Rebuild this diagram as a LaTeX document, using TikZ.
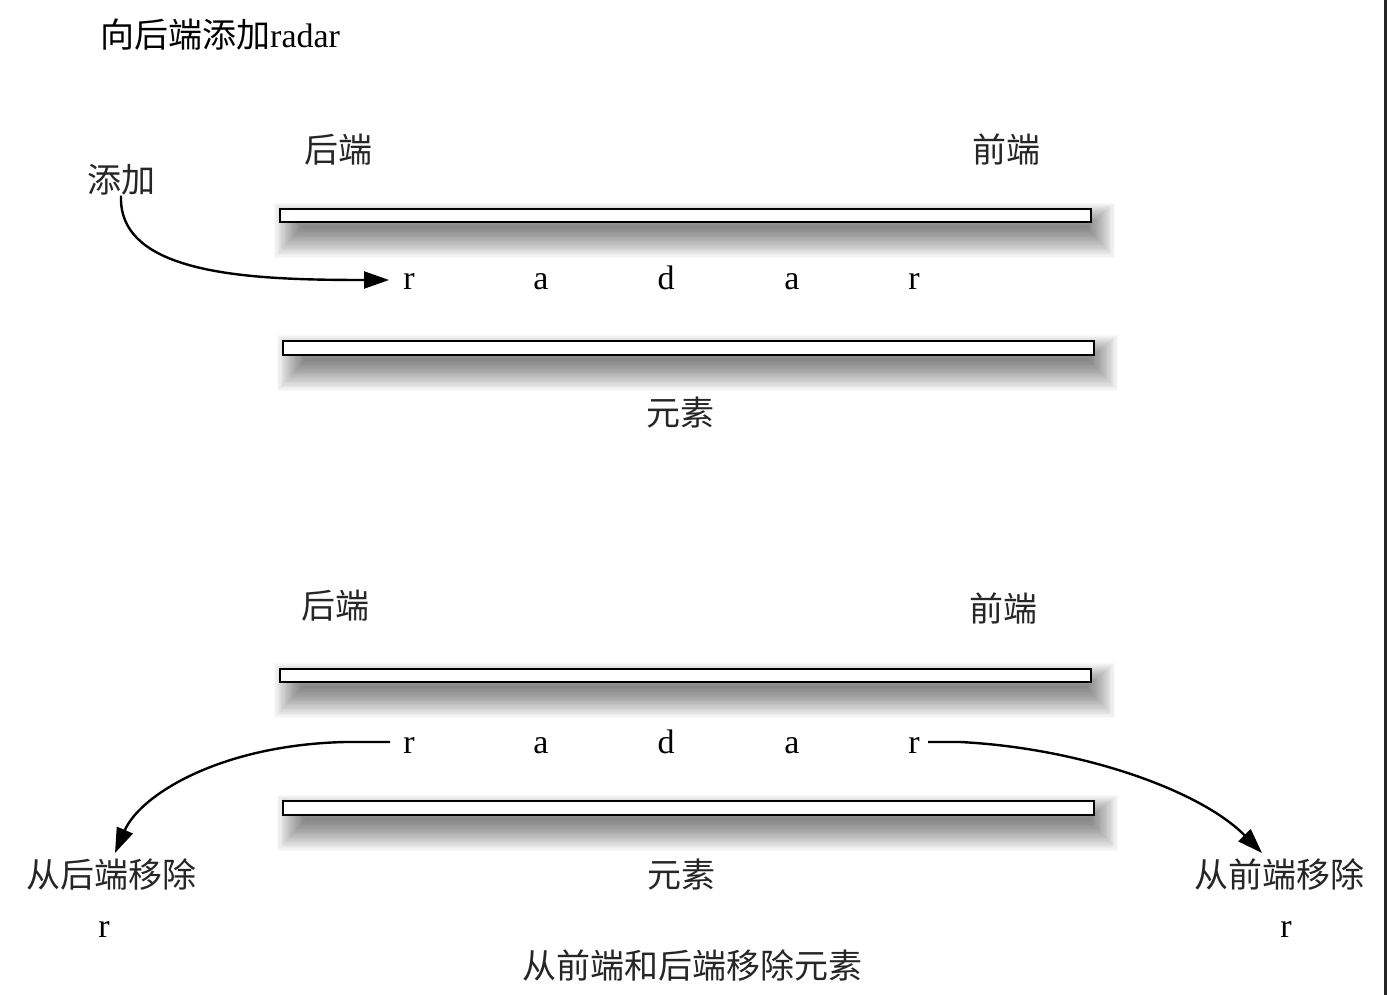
\documentclass[tikz,border=0pt]{standalone}
\usepackage{fontspec}
\setmainfont{Liberation Serif}
\newfontfamily\cjk{Noto Sans CJK SC}
\usetikzlibrary{arrows.meta}
\newcommand\mybarshadow[4]{%
  \foreach \i in {0,...,23}{%
    \fill[black,opacity=0.022] ({#1-6+1.2*\i},{#2-6+1.0*\i}) rectangle ({#3+24-1.2*\i},{#4+36-1.3*\i});
  }%
}
\begin{document}
\begin{tikzpicture}[x=1pt,y=-1pt,
  bar/.style={draw=black,line width=2.5pt,fill=white},
  lbl/.style={font=\cjk\fontsize{34}{37}\selectfont,inner sep=0pt,text=black!85},
  ch/.style={font=\fontsize{34}{37}\selectfont,inner sep=0pt,anchor=base},
  arr/.style={line width=2.4pt,-{Triangle[length=25pt,width=17pt,fill=black]}}
]
\useasboundingbox (0,0) rectangle (1387,995);
\fill[white] (0,0) rectangle (1387,995);
\draw[line width=3pt,black!85] (1385,0) -- (1385,995);

% title
\node[anchor=west,inner sep=0pt] (title) at (100,35) {{\cjk\fontsize{34}{37}\selectfont 向后端添加}{\fontsize{34}{37}\selectfont radar}};

% ---------- top ----------
\node[lbl] (rear1) at (338,150) {后端};
\node[lbl] (front1) at (1006,150) {前端};
\node[lbl] (add) at (121,180) {添加};
\mybarshadow{280}{209}{1091}{222}
\mybarshadow{283}{341}{1094}{355}
\path[bar] (280,209) rectangle (1091,222);
\path[bar] (283,341) rectangle (1094,355);
\node[ch] (r1) at (409,289) {r};
\node[ch] (a1) at (541,289) {a};
\node[ch] (d1) at (666,289) {d};
\node[ch] (a2) at (792,289) {a};
\node[ch] (r2) at (914,289) {r};
\node[lbl] (el1) at (680,413) {元素};
\coordinate (addend) at (389,280);
\draw[arr] (add.south) .. controls (118,275) and (250,280) .. (addend);

% ---------- bottom ----------
\node[lbl] (rear2) at (335,606) {后端};
\node[lbl] (front2) at (1003,609) {前端};
\mybarshadow{280}{669}{1091}{682}
\mybarshadow{283}{801}{1094}{815}
\path[bar] (280,669) rectangle (1091,682);
\path[bar] (283,801) rectangle (1094,815);
\node[ch] (r3) at (409,753) {r};
\node[ch] (a3) at (541,753) {a};
\node[ch] (d2) at (666,753) {d};
\node[ch] (a4) at (792,753) {a};
\node[ch] (r4) at (914,753) {r};
\node[lbl] (el2) at (681,875) {元素};
\node[lbl] (remrear) at (111,875) {从后端移除};
\node[lbl] (remfront) at (1279,875) {从前端移除};
\node[ch] (rl) at (104,937) {r};
\node[ch] (rr) at (1286,937) {r};
\node[lbl] (caption) at (692,966) {从前端和后端移除元素};

\coordinate (s1) at (390,742);
\coordinate (s2) at (928,742);
\coordinate (e1) at (115,853);
\coordinate (e2) at (1262,853);
\draw[arr] (s1) -- (345,742) .. controls (220,745) and (140,795) .. (e1);
\draw[arr] (s2) -- (960,742) .. controls (1080,748) and (1200,790) .. (e2);
\end{tikzpicture}
\end{document}
